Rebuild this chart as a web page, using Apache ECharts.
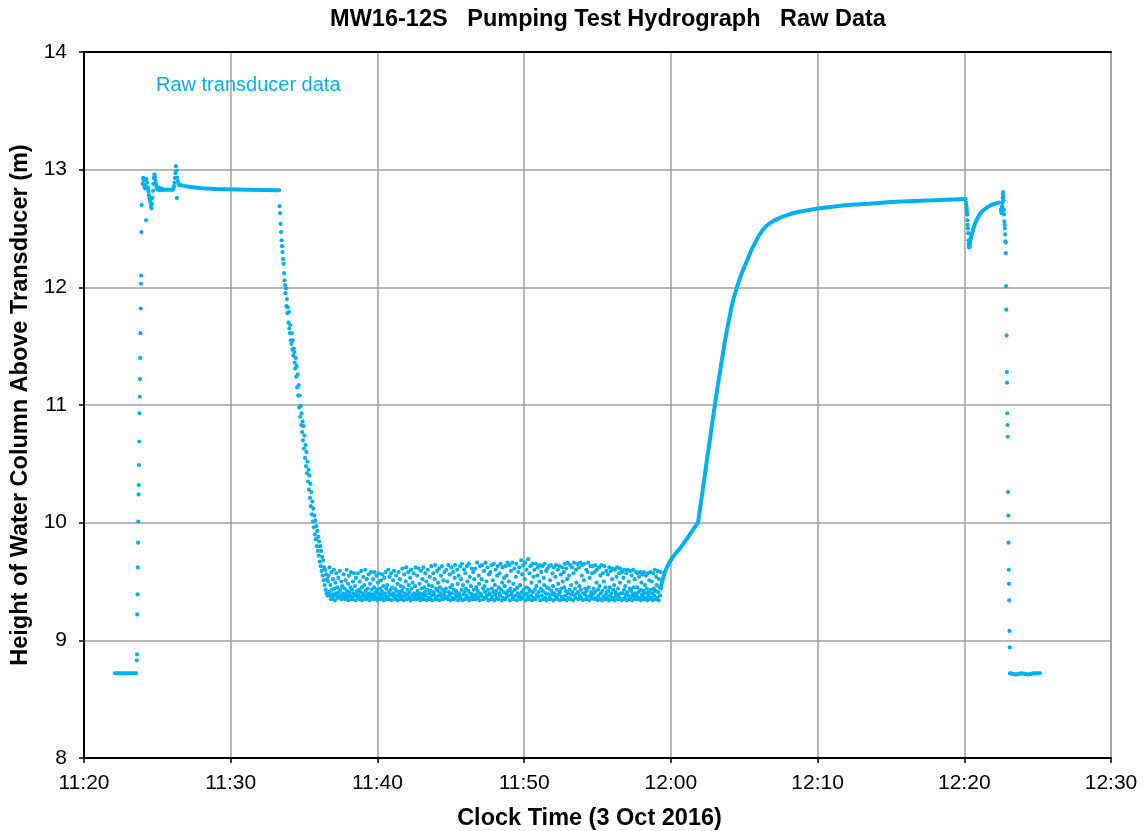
<!DOCTYPE html>
<html>
<head>
<meta charset="utf-8">
<title>MW16-12S Pumping Test Hydrograph</title>
<script src="https://cdn.jsdelivr.net/npm/echarts@6/dist/echarts.min.js"></script>
<style>
  html, body { margin: 0; padding: 0; background: #fff; }
  #chart { width: 1143px; height: 831px; }
</style>
</head>
<body>
<div id="chart"></div>
<script>
// ---- Transducer readings, MW16-12S, 3 Oct 2016 ----
// Clock-axis ticks and height-axis ticks
const xTicks = ['11:20', '11:30', '11:40', '11:50', '12:00', '12:10', '12:20', '12:30'];
const yTicks = [8, 9, 10, 11, 12, 13, 14];

// Steady stretches recorded as [clock time, height (m)]
const staticBefore = [['11:22:06', 8.72], ['11:23:33', 8.72]];
const staticTopA = [['11:25:22', 12.83], ['11:26:04', 12.83]];
const staticTopB = [['11:26:32', 12.87], ['11:26:50', 12.862], ['11:27:10', 12.855], ['11:27:35', 12.848],
  ['11:28:00', 12.842], ['11:29:00', 12.836], ['11:31:00', 12.83], ['11:33:18', 12.825]];
// early recovery, up to the break in slope at 10.0 m
const recoveryEarly = [['11:59:20', 9.46], ['11:59:35', 9.58], ['11:59:56', 9.67], ['12:00:16', 9.73],
  ['12:00:37', 9.78], ['12:01:06', 9.865], ['12:01:31', 9.94], ['12:01:51', 10.00]];
// main recovery
const recoveryLate = [['12:01:51', 10.00], ['12:02:00', 10.13], ['12:02:10', 10.27], ['12:02:20', 10.42],
  ['12:02:30', 10.57], ['12:02:40', 10.71], ['12:02:50', 10.86], ['12:03:00', 11.00], ['12:03:10', 11.14],
  ['12:03:20', 11.27], ['12:03:30', 11.40], ['12:03:40', 11.53], ['12:03:50', 11.64], ['12:04:00', 11.75],
  ['12:04:10', 11.85], ['12:04:20', 11.93], ['12:04:30', 12.00], ['12:04:40', 12.06], ['12:04:50', 12.12],
  ['12:05:00', 12.17], ['12:05:10', 12.22], ['12:05:20', 12.27], ['12:05:30', 12.32], ['12:05:40', 12.36],
  ['12:05:50', 12.40], ['12:06:00', 12.44], ['12:06:10', 12.47], ['12:06:20', 12.50], ['12:06:30', 12.52],
  ['12:06:45', 12.545], ['12:07:00', 12.565], ['12:07:15', 12.58], ['12:07:30', 12.595], ['12:07:50', 12.61],
  ['12:08:10', 12.625], ['12:08:40', 12.64], ['12:09:20', 12.655], ['12:10:00', 12.67], ['12:11:00', 12.685],
  ['12:12:00', 12.70], ['12:13:30', 12.71], ['12:15:00', 12.725], ['12:17:00', 12.735], ['12:20:06', 12.75]];
const reentry = [['12:20:20', 12.34], ['12:20:24', 12.39], ['12:20:28', 12.43], ['12:20:32', 12.46],
  ['12:20:36', 12.49], ['12:20:42', 12.53], ['12:20:50', 12.57], ['12:21:00', 12.61], ['12:21:10', 12.64],
  ['12:21:22', 12.66], ['12:21:37', 12.685], ['12:21:50', 12.70], ['12:22:05', 12.71], ['12:22:22', 12.72]];
const staticAfter = [['12:23:06', 8.72], ['12:23:30', 8.71], ['12:23:55', 8.72], ['12:24:20', 8.71],
  ['12:24:45', 8.72], ['12:25:10', 8.72]];

// Individual readings: first reading time, logging interval (s), heights (m)
const installStart = '11:23:36', installStep = 1;
const install = [8.83, 8.88, 9.22, 9.39, 9.62, 9.83, 10.01, 10.24, 10.32, 10.49, 10.69, 10.93, 11.07, 11.22,
  11.40, 11.61, 11.82, 12.03, 12.10, 12.47, 12.70];

const settleStart = '11:24:00', settleStep = 2;
const settle = [12.88, 12.93, 12.91, 12.87, 12.85, 12.84, 12.86, 12.57, 12.92, 12.89, 12.85, 12.83, 12.81,
  12.78, 12.76, 12.74, 12.72, 12.69, 12.67, 12.71, 12.76, 12.82, 12.88, 12.93, 12.96, 12.94, 12.91, 12.88,
  12.86, 12.84, 12.84, 12.83, 12.85, 12.84, 12.83, 12.83, 12.84, 12.83, 12.83, 12.84, 12.83];

const spikeStart = '11:26:06', spikeStep = 2;
const spike = [12.84, 12.86, 12.89, 12.93, 12.97, 13.03, 12.99, 12.76, 12.93, 12.90, 12.88, 12.87, 12.87];

const drawdownStart = '11:33:20', drawdownStep = 2;
const drawdown = [
  12.69, 12.63, 12.54, 12.47, 12.40, 12.35, 12.30, 12.24, 12.20, 12.12, 12.06, 12.02, 11.95, 11.99,
  11.84, 11.90, 11.78, 11.83, 11.70, 11.79, 11.65, 11.61, 11.68, 11.55, 11.52, 11.61, 11.47, 11.55,
  11.42, 11.48, 11.45, 11.36, 11.31, 11.40, 11.24, 11.33, 11.15, 11.26, 11.08, 11.17, 10.98, 11.08,
  10.90, 10.99, 10.83, 10.93, 10.77, 10.86, 10.70, 10.82, 10.63, 10.74, 10.55, 10.66, 10.48, 10.60,
  10.42, 10.52, 10.35, 10.45, 10.28, 10.40, 10.21, 10.33, 10.14, 10.26, 10.07, 10.18, 10.01, 10.12,
  9.96, 10.06, 9.90, 10.02, 9.86, 9.97, 9.80, 9.93, 9.76, 9.88, 9.72, 9.84, 9.67, 9.80, 9.63, 9.76,
  9.59, 9.71, 9.55, 9.68, 9.51, 9.62, 9.47, 9.60, 9.43, 9.56, 9.40, 9.52, 9.38, 9.50];

const pumpingStart = '11:36:40', pumpingStep = 2;
const pumping = [
  9.55, 9.41, 9.62, 9.38, 9.47, 9.35, 9.58, 9.43, 9.39, 9.52, 9.37, 9.60, 9.44, 9.34, 9.49, 9.40, 9.57, 9.38, 9.45, 9.36, 9.53, 9.41, 9.37, 9.59, 9.43, 9.38, 9.50, 9.35, 9.46, 9.39,
  9.40, 9.56, 9.37, 9.44, 9.35, 9.51, 9.39, 9.60, 9.42, 9.37, 9.48, 9.34, 9.55, 9.41, 9.38, 9.45, 9.58, 9.36, 9.43, 9.35, 9.50, 9.40, 9.57, 9.38, 9.46, 9.34, 9.53, 9.39, 9.42, 9.37,
  9.57, 9.38, 9.43, 9.35, 9.50, 9.41, 9.37, 9.59, 9.45, 9.34, 9.40, 9.54, 9.38, 9.47, 9.36, 9.60, 9.42, 9.35, 9.52, 9.39, 9.44, 9.37, 9.56, 9.40, 9.34, 9.48, 9.38, 9.58, 9.43, 9.36,
  9.39, 9.52, 9.35, 9.45, 9.58, 9.38, 9.41, 9.36, 9.55, 9.43, 9.34, 9.49, 9.40, 9.57, 9.37, 9.44, 9.35, 9.51, 9.39, 9.42, 9.56, 9.36, 9.46, 9.34, 9.53, 9.40, 9.38, 9.58, 9.44, 9.35,
  9.47, 9.37, 9.60, 9.41, 9.35, 9.54, 9.39, 9.43, 9.57, 9.34, 9.45, 9.38, 9.51, 9.40, 9.59, 9.36, 9.44, 9.35, 9.55, 9.42, 9.38, 9.48, 9.34, 9.58, 9.41, 9.37, 9.52, 9.39, 9.46, 9.35,
  9.42, 9.61, 9.37, 9.45, 9.34, 9.56, 9.40, 9.38, 9.50, 9.62, 9.35, 9.43, 9.39, 9.58, 9.47, 9.36, 9.41, 9.53, 9.34, 9.60, 9.44, 9.38, 9.49, 9.35, 9.57, 9.40, 9.37, 9.46, 9.62, 9.39,
  9.35, 9.55, 9.42, 9.38, 9.61, 9.36, 9.48, 9.40, 9.34, 9.59, 9.44, 9.37, 9.52, 9.39, 9.62, 9.35, 9.45, 9.41, 9.57, 9.38, 9.50, 9.34, 9.43, 9.60, 9.36, 9.47, 9.40, 9.54, 9.35, 9.42,
  9.63, 9.38, 9.46, 9.34, 9.57, 9.41, 9.39, 9.52, 9.64, 9.36, 9.44, 9.35, 9.59, 9.42, 9.49, 9.38, 9.61, 9.34, 9.45, 9.40, 9.55, 9.37, 9.63, 9.43, 9.35, 9.51, 9.39, 9.58, 9.41, 9.36,
  9.44, 9.60, 9.37, 9.50, 9.35, 9.64, 9.41, 9.38, 9.56, 9.45, 9.34, 9.62, 9.40, 9.47, 9.36, 9.58, 9.43, 9.35, 9.53, 9.64, 9.39, 9.42, 9.37, 9.60, 9.48, 9.34, 9.55, 9.40, 9.38, 9.63,
  9.36, 9.52, 9.43, 9.65, 9.34, 9.47, 9.39, 9.60, 9.41, 9.35, 9.57, 9.44, 9.38, 9.63, 9.50, 9.36, 9.42, 9.65, 9.34, 9.54, 9.40, 9.46, 9.37, 9.61, 9.39, 9.35, 9.58, 9.43, 9.52, 9.38,
  9.61, 9.35, 9.45, 9.39, 9.66, 9.42, 9.36, 9.55, 9.48, 9.34, 9.63, 9.40, 9.38, 9.52, 9.64, 9.37, 9.44, 9.35, 9.59, 9.46, 9.41, 9.66, 9.36, 9.50, 9.38, 9.62, 9.43, 9.34, 9.56, 9.40,
  9.39, 9.58, 9.35, 9.64, 9.44, 9.37, 9.51, 9.41, 9.65, 9.34, 9.47, 9.39, 9.60, 9.42, 9.36, 9.55, 9.63, 9.35, 9.45, 9.40, 9.57, 9.38, 9.65, 9.43, 9.34, 9.49, 9.62, 9.36, 9.41, 9.53,
  9.46, 9.35, 9.63, 9.40, 9.55, 9.37, 9.66, 9.42, 9.38, 9.50, 9.64, 9.34, 9.44, 9.59, 9.39, 9.41, 9.66, 9.36, 9.48, 9.35, 9.61, 9.43, 9.38, 9.54, 9.65, 9.34, 9.45, 9.40, 9.58, 9.37,
  9.62, 9.38, 9.47, 9.35, 9.68, 9.41, 9.56, 9.36, 9.64, 9.43, 9.39, 9.52, 9.66, 9.34, 9.45, 9.60, 9.40, 9.37, 9.69, 9.44, 9.35, 9.57, 9.42, 9.63, 9.38, 9.49, 9.34, 9.65, 9.41, 9.54,
  9.36, 9.60, 9.43, 9.35, 9.65, 9.46, 9.39, 9.55, 9.62, 9.37, 9.41, 9.50, 9.64, 9.34, 9.44, 9.58, 9.38, 9.63, 9.42, 9.35, 9.53, 9.47, 9.65, 9.36, 9.40, 9.59, 9.34, 9.45, 9.61, 9.39,
  9.44, 9.63, 9.36, 9.51, 9.35, 9.64, 9.42, 9.39, 9.57, 9.46, 9.34, 9.62, 9.40, 9.38, 9.54, 9.64, 9.36, 9.43, 9.35, 9.60, 9.48, 9.39, 9.63, 9.41, 9.34, 9.56, 9.44, 9.37, 9.62, 9.50,
  9.35, 9.58, 9.45, 9.65, 9.38, 9.42, 9.61, 9.34, 9.52, 9.66, 9.40, 9.36, 9.55, 9.43, 9.64, 9.35, 9.47, 9.39, 9.62, 9.41, 9.34, 9.57, 9.66, 9.38, 9.44, 9.36, 9.60, 9.49, 9.40, 9.65,
  9.41, 9.35, 9.62, 9.46, 9.38, 9.66, 9.43, 9.36, 9.55, 9.64, 9.34, 9.40, 9.51, 9.65, 9.39, 9.44, 9.35, 9.60, 9.42, 9.37, 9.58, 9.66, 9.45, 9.34, 9.53, 9.38, 9.63, 9.41, 9.36, 9.57,
  9.63, 9.39, 9.44, 9.35, 9.58, 9.41, 9.64, 9.36, 9.49, 9.60, 9.34, 9.43, 9.38, 9.62, 9.46, 9.35, 9.55, 9.40, 9.64, 9.34, 9.42, 9.57, 9.37, 9.50, 9.63, 9.35, 9.45, 9.39, 9.59, 9.41,
  9.36, 9.56, 9.42, 9.34, 9.62, 9.45, 9.38, 9.59, 9.40, 9.35, 9.52, 9.61, 9.43, 9.36, 9.47, 9.34, 9.60, 9.41, 9.38, 9.54, 9.62, 9.35, 9.44, 9.39, 9.57, 9.36, 9.49, 9.61, 9.40, 9.34,
  9.58, 9.40, 9.35, 9.53, 9.43, 9.60, 9.36, 9.46, 9.39, 9.57, 9.34, 9.41, 9.60, 9.38, 9.50, 9.35, 9.44, 9.59, 9.36, 9.42, 9.55, 9.34, 9.39, 9.60, 9.45, 9.37, 9.52, 9.40, 9.35, 9.58,
  9.38, 9.45, 9.57, 9.35, 9.41, 9.54, 9.36, 9.58, 9.43, 9.34, 9.49, 9.39, 9.56, 9.37, 9.42, 9.58, 9.35, 9.47, 9.40, 9.55, 9.36, 9.44, 9.34, 9.57, 9.41, 9.38, 9.51, 9.35, 9.58, 9.43,
  9.36, 9.50, 9.40, 9.34, 9.57, 9.44, 9.38, 9.60, 9.42, 9.35, 9.54, 9.47, 9.36, 9.59, 9.41, 9.34, 9.52, 9.45, 9.38, 9.58, 9.44];

const dipStart = '12:20:07', dipStep = 1;
const dip = [12.72, 12.70, 12.68, 12.66, 12.64, 12.62, 12.57, 12.53, 12.50, 12.46, 12.40, 12.37, 12.35, 12.34];

const removalStart = '12:22:30', removalStep = 1;
const removal = [12.66, 12.64, 12.67, 12.63, 12.65, 12.69, 12.72, 12.76, 12.79, 12.81, 12.77, 12.74, 12.66,
  12.62, 12.56, 12.53, 12.50, 12.45, 12.39, 12.38, 12.29, 12.01, 11.81, 11.59, 11.28, 11.19, 10.93, 10.83,
  10.73, 10.26, 10.06, 9.83, 9.60, 9.48, 9.34, 9.08, 8.94];

// ---- helpers ----
function toMin(clock) {
  const p = clock.split(':').map(Number);
  return p[0] * 60 + p[1] + (p[2] || 0) / 60;
}
function readings(start, stepSec, values) {
  const t0 = toMin(start);
  return values.map((v, i) => [t0 + i * stepSec / 60, v]);
}
function knots(list) {
  return list.map(d => [toMin(d[0]), d[1]]);
}
function fmtClock(m) {
  const h = Math.floor(m / 60), mm = Math.round(m - h * 60);
  return h + ':' + (mm < 10 ? '0' : '') + mm;
}

const NAME = 'Raw transducer data';
const BLUE = '#00B0F0';
const FONT = "'Liberation Sans', Arial, sans-serif";

const scatterPoints = [].concat(
  readings(installStart, installStep, install),
  readings(settleStart, settleStep, settle),
  readings(spikeStart, spikeStep, spike),
  readings(drawdownStart, drawdownStep, drawdown),
  readings(pumpingStart, pumpingStep, pumping),
  readings(dipStart, dipStep, dip),
  readings(removalStart, removalStep, removal)
);

const steadyRuns = [staticBefore, staticTopA, staticTopB, recoveryEarly, recoveryLate, reentry, staticAfter];

const series = steadyRuns.map(run => ({
  name: NAME,
  type: 'line',
  data: knots(run),
  showSymbol: false,
  symbol: 'none',
  color: BLUE,
  lineStyle: { color: BLUE, width: 4, cap: 'round', join: 'round' },
  silent: true,
  z: 3
}));
series.push({
  name: NAME,
  type: 'scatter',
  data: scatterPoints,
  symbolSize: 4.2,
  itemStyle: { color: BLUE, opacity: 1 },
  silent: true,
  z: 4
});

const xMin = toMin(xTicks[0]), xMax = toMin(xTicks[xTicks.length - 1]);

const chart = echarts.init(document.getElementById('chart'), null, { renderer: 'canvas' });
chart.setOption({
  animation: false,
  backgroundColor: '#ffffff',
  textStyle: { fontFamily: FONT },
  title: {
    text: 'MW16-12S   Pumping Test Hydrograph   Raw Data',
    left: 603,
    textAlign: 'center',
    top: 3,
    textStyle: { fontFamily: FONT, fontSize: 23.5, fontWeight: 'bold', color: '#000' }
  },
  legend: {
    data: [NAME],
    left: 145,
    top: 70,
    itemWidth: 0,
    itemHeight: 0,
    selectedMode: false,
    textStyle: { color: BLUE, fontSize: 20, fontFamily: FONT }
  },
  grid: {
    left: 84, right: 32, top: 52, bottom: 73,
    containLabel: false,
    outerBoundsMode: 'none',
    show: true,
    borderColor: '#a0a0a0',
    borderWidth: 1.5,
    backgroundColor: 'transparent'
  },
  xAxis: [{
    type: 'value',
    min: xMin,
    max: xMax,
    interval: 10,
    name: 'Clock Time (3 Oct 2016)',
    nameLocation: 'middle',
    nameGap: 45,
    nameTextStyle: { fontFamily: FONT, fontSize: 23.5, fontWeight: 'bold', color: '#000', padding: [4, 16, 0, 0] },
    axisLine: { show: true, onZero: false, lineStyle: { color: '#000', width: 2 } },
    axisTick: { show: true, length: 5, lineStyle: { color: '#000', width: 1.5 } },
    axisLabel: { formatter: fmtClock, color: '#000', fontSize: 21, fontFamily: FONT, margin: 15 },
    splitLine: { show: true, lineStyle: { color: '#a0a0a0', width: 1.5 } }
  }, {
    type: 'value',
    position: 'top',
    min: xMin,
    max: xMax,
    interval: 10,
    axisLine: { show: true, onZero: false, lineStyle: { color: '#000', width: 2 } },
    axisTick: { show: false },
    axisLabel: { show: false },
    splitLine: { show: false }
  }],
  yAxis: {
    type: 'value',
    min: yTicks[0],
    max: yTicks[yTicks.length - 1],
    interval: 1,
    name: 'Height of Water Column Above Transducer (m)',
    nameLocation: 'middle',
    nameGap: 50,
    nameTextStyle: { fontFamily: FONT, fontSize: 23.5, fontWeight: 'bold', color: '#000' },
    axisLine: { show: true, onZero: false, lineStyle: { color: '#000', width: 2 } },
    axisTick: { show: true, length: 5, lineStyle: { color: '#000', width: 1.5 } },
    axisLabel: { color: '#000', fontSize: 21, fontFamily: FONT, margin: 17 },
    splitLine: { show: true, lineStyle: { color: '#a0a0a0', width: 1.5 } }
  },
  series: series
});
</script>
</body>
</html>
